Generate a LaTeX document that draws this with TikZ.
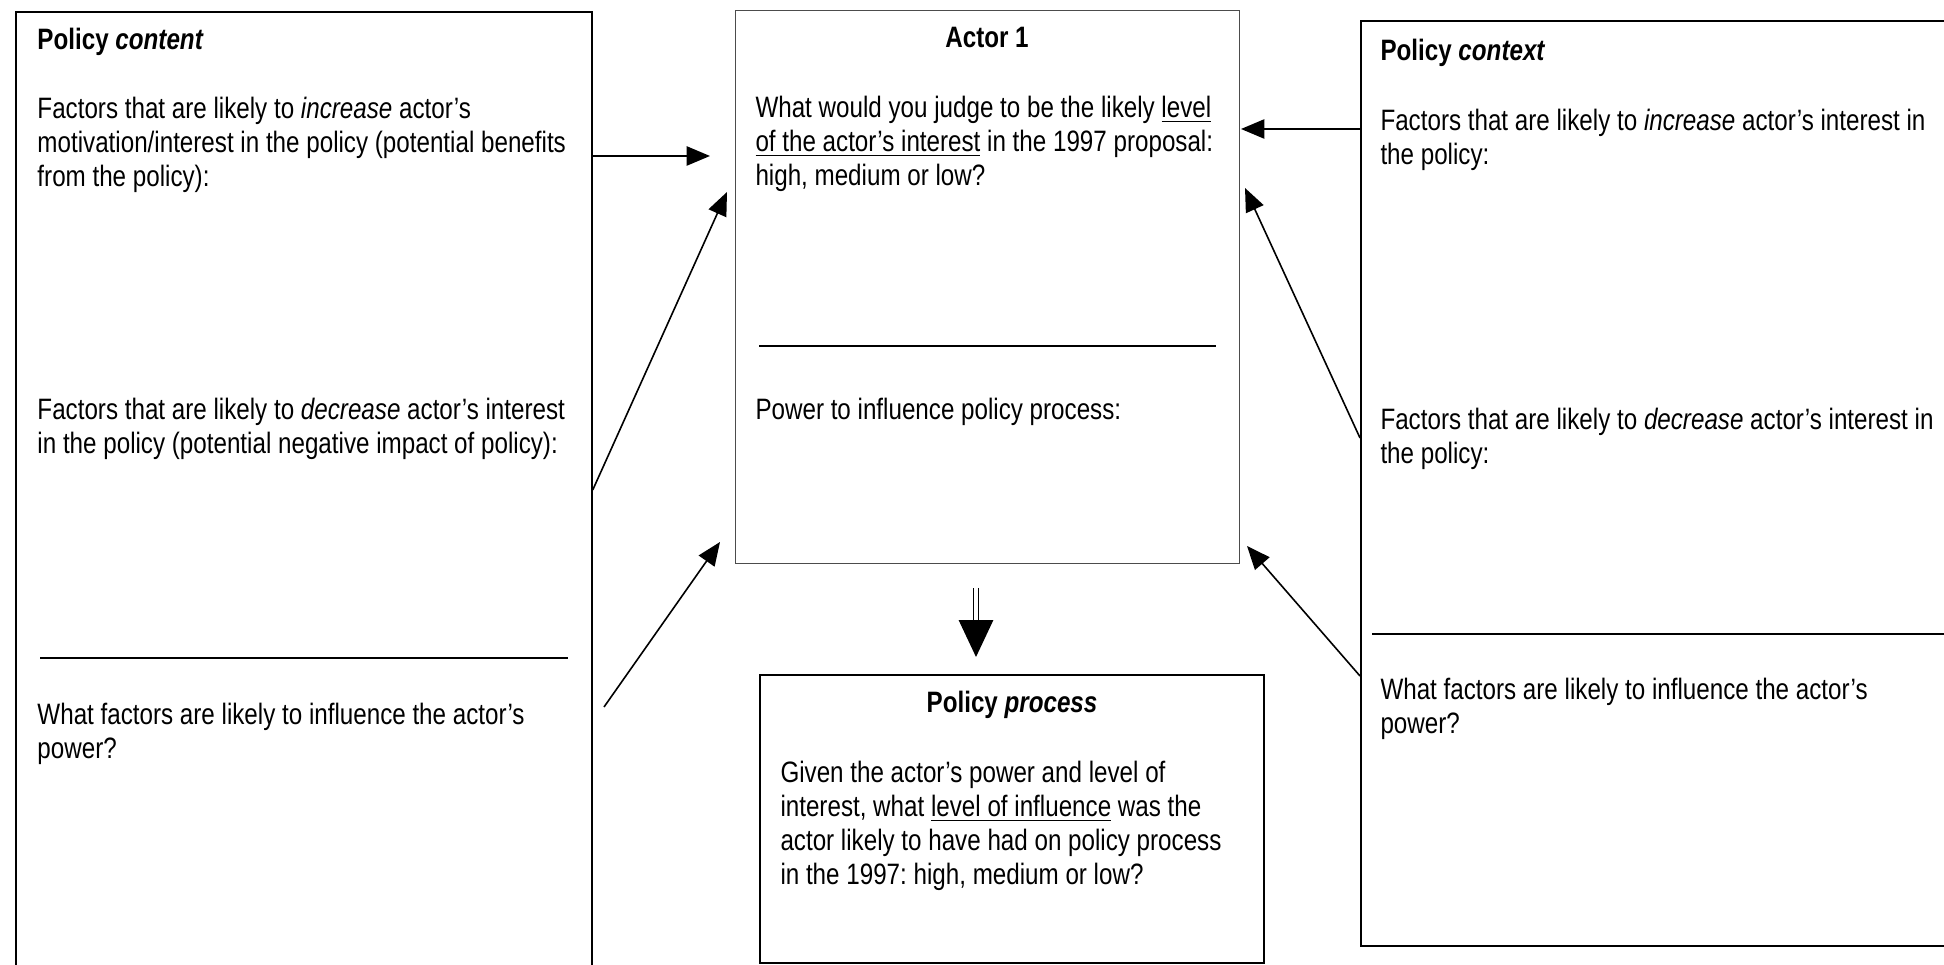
\documentclass[tikz,border=0pt]{standalone}
\usepackage{fontspec}
\setmainfont{Liberation Sans}[FakeStretch=0.82]
\usetikzlibrary{arrows.meta,positioning}
\def\px{0.4068pt}
\frenchspacing

\begin{document}
\begin{tikzpicture}[x=\px, y=-\px,
  every node/.style={font=\fontsize{12}{13.8}\selectfont, inner sep=0pt},
  box/.style={draw, anchor=north west, line width=0.7pt},
  txt/.style={anchor=north west, align=left},
  arr/.style={-{Triangle[length=9.5pt,width=7.8pt]}, line width=0.8pt},
  slant/.style={-{Triangle[length=9.5pt,width=7.8pt]}, line width=0.65pt}]
  \useasboundingbox (0,0) rectangle (1944,965);
  \clip (0,0) rectangle (1944,965);
  % boxes
  \node[box, minimum width={576*\px}, minimum height={1000*\px}] (content) at (15,11) {};
  \node[box, draw=black!70, line width=0.5pt, minimum width={504*\px}, minimum height={553*\px}] (actor) at (735,10) {};
  \node[box, line width=0.8pt, minimum width={504*\px}, minimum height={288*\px}] (process) at (759,674) {};
  \node[box, line width=0.8pt, minimum width={640*\px}, minimum height={925*\px}] (context) at (1360,20) {};
  % rules
  \draw[line width=0.8pt] (40,658) -- (568,658);
  \draw[line width=0.8pt] (759,346) -- (1216,346);
  \draw[line width=0.8pt] (1372,634) -- (1990,634);
  % policy content
  \node[anchor=base west] (contitle) at (37,50) {\textbf{Policy \textit{content}}};
  \node[txt] (conup) at (37,96.5) {Factors that are likely to \textit{increase} actor's\\motivation/interest in the policy (potential benefits\\from the policy):};
  \node[txt] (condown) at (37,397.5) {Factors that are likely to \textit{decrease} actor's interest\\in the policy (potential negative impact of policy):};
  \node[txt] (conpower) at (37,702.5) {What factors are likely to influence the actor's\\power?};
  % actor
  \node[anchor=base] (acttitle) at (987,48) {\textbf{Actor 1}};
  \node[txt] (actint) at (755,95.5) {What would you judge to be the likely \underline{level}\\\underline{of the actor's interest} in the 1997 proposal:\\high, medium or low?};
  \node[txt] (actpower) at (755,397.5) {Power to influence policy process:};
  % policy process
  \node[anchor=base] (protitle) at (1012,713) {\textbf{Policy \textit{process}}};
  \node[txt] (protext) at (780,760.5) {Given the actor's power and level of\\interest, what \underline{level of influence} was the\\actor likely to have had on policy process\\in the 1997: high, medium or low?};
  % policy context
  \node[anchor=base west] (ctxtitle) at (1380,61) {\textbf{Policy \textit{context}}};
  \node[txt] (ctxup) at (1380,108.5) {Factors that are likely to \textit{increase} actor's interest in\\the policy:};
  \node[txt] (ctxdown) at (1380,407.5) {Factors that are likely to \textit{decrease} actor's interest in\\the policy:};
  \node[txt] (ctxpower) at (1380,677.5) {What factors are likely to influence the actor's\\power?};
  % arrow ends
  \coordinate (c1) at (content.east |- 0,156);
  \coordinate (c2) at (content.east |- 0,490);
  \coordinate (c3) at (604,707);
  \coordinate (a1) at (710,156);
  \coordinate (a2) at (727,192);
  \coordinate (a3) at (720,542);
  \coordinate (x1) at (context.west |- 0,129);
  \coordinate (x2) at (context.west |- 0,438);
  \coordinate (x3) at (context.west |- 0,676);
  \coordinate (b1) at (1241,129);
  \coordinate (b2) at (1245,188);
  \coordinate (b3) at (1247,546);
  \draw[arr] (c1) -- (a1);
  \draw[arr] (x1) -- (b1);
  \foreach \s/\e in {c2/a2, c3/a3, x2/b2, x3/b3}
    {\draw[slant] (\s) -- (\e);}
  % actor to process
  \coordinate (d1) at (976,588);
  \coordinate (d2) at (976,657);
  \draw[line width=0.5pt, double distance=1.6pt] (d1) -- (976,624);
  \draw[-{Triangle[length=15pt,width=14pt]}, line width=0.5pt] (976,620) -- (d2);
\end{tikzpicture}
\end{document}
